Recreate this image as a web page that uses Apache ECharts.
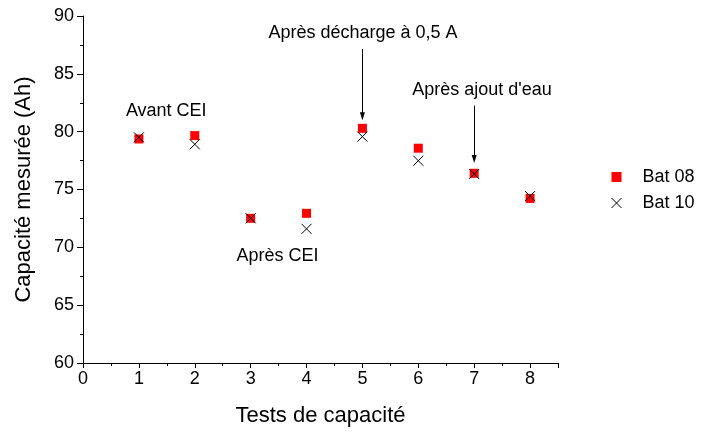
<!DOCTYPE html>
<html>
<head>
<meta charset="utf-8">
<script src="https://cdn.jsdelivr.net/npm/echarts@6/dist/echarts.min.js"></script>
<style>
  html, body { margin: 0; padding: 0; background: #fff; }
  #chart { width: 701px; height: 432px; }
</style>
</head>
<body>
<div id="chart"></div>
<script>
// Capacity test numbers (x) and measured capacities in Ah
const tests = [1, 2, 3, 4, 5, 6, 7, 8];
const bat08 = [79.37, 79.66, 72.51, 72.94, 80.29, 78.57, 76.40, 74.23];
const bat10 = [79.51, 78.91, 72.51, 71.60, 79.57, 77.49, 76.34, 74.43];

// Annotation texts with their anchor positions (test, Ah)
const noteTexts = ['Avant CEI', 'Après CEI', 'Après décharge à 0,5 A', "Après ajout d'eau"];
const noteX = [1.49, 3.48, 5.01, 7.14];
const noteY = [81.82, 69.29, 88.52, 83.62];

// Arrows: x position, start and end (Ah)
const arrowX = [5, 7];
const arrowFrom = [87.15, 82.25];
const arrowTo = [81.34, 77.63];

const FONT = 'Liberation Sans, Arial, sans-serif';
const crossPath = 'path://M0,0L10,10M10,0L0,10';

const chart = echarts.init(document.getElementById('chart'), null, { renderer: 'canvas' });

chart.setOption({
  animation: false,
  backgroundColor: '#ffffff',
  textStyle: { fontFamily: FONT, color: '#000' },
  grid: { left: 83, right: 143, top: 16, bottom: 65, containLabel: false },
  legend: {
    orient: 'vertical',
    left: 606,
    top: 163,
    itemWidth: 10,
    itemHeight: 10,
    itemGap: 8,
    selectedMode: false,
    textStyle: { fontFamily: FONT, fontSize: 18, color: '#000', padding: [0, 0, 0, 16] },
    data: [
      { name: 'Bat 08', icon: 'rect', itemStyle: { color: '#ff0000', opacity: 1 } },
      { name: 'Bat 10', icon: crossPath, itemStyle: { color: 'rgba(0,0,0,0)', borderColor: '#000', borderWidth: 1, opacity: 1 } }
    ]
  },
  xAxis: {
    type: 'value',
    min: 0,
    max: 8.5,
    interval: 1,
    name: 'Tests de capacité',
    nameLocation: 'middle',
    nameGap: 42,
    nameTextStyle: { fontFamily: FONT, fontSize: 22, color: '#000' },
    axisLine: { onZero: false, lineStyle: { color: '#000', width: 1 } },
    axisTick: { inside: false, length: 5, lineStyle: { color: '#000' } },
    minorTick: { show: true, splitNumber: 2, length: 3, lineStyle: { color: '#000' } },
    axisLabel: {
      fontFamily: FONT, fontSize: 18, color: '#000', margin: 7,
      formatter: v => (v > 8 ? '' : String(v))
    },
    splitLine: { show: false }
  },
  yAxis: {
    type: 'value',
    min: 60,
    max: 90,
    interval: 5,
    name: 'Capacité mesurée (Ah)',
    nameLocation: 'middle',
    nameGap: 48,
    nameTextStyle: { fontFamily: FONT, fontSize: 22, color: '#000' },
    axisLine: { show: true, onZero: false, lineStyle: { color: '#000', width: 1 } },
    axisTick: { show: true, inside: false, length: 6, lineStyle: { color: '#000' } },
    minorTick: { show: true, splitNumber: 2, length: 3, lineStyle: { color: '#000' } },
    axisLabel: { fontFamily: FONT, fontSize: 18, color: '#000', margin: 9 },
    splitLine: { show: false }
  },
  series: [
    {
      name: 'Bat 08',
      type: 'scatter',
      symbol: 'rect',
      symbolSize: 9,
      itemStyle: { color: '#ff0000', opacity: 1 },
      data: tests.map((t, i) => [t, bat08[i]]),
      z: 2
    },
    {
      name: 'Bat 10',
      type: 'scatter',
      symbol: crossPath,
      symbolSize: 10,
      itemStyle: { color: 'rgba(0,0,0,0)', borderColor: '#000', borderWidth: 1, opacity: 1 },
      data: tests.map((t, i) => [t, bat10[i]]),
      z: 3
    },
    {
      name: 'notes',
      type: 'scatter',
      symbolSize: 0,
      silent: true,
      z: 4,
      itemStyle: { opacity: 1 },
      label: {
        show: true,
        position: 'inside',
        fontFamily: FONT,
        fontSize: 18,
        color: '#000',
        opacity: 1,
        formatter: p => p.name
      },
      data: noteTexts.map((n, i) => ({ name: n, value: [noteX[i], noteY[i]] })),
      markLine: {
        silent: true,
        symbol: ['none', 'triangle'],
        symbolSize: [5, 8],
        symbolRotate: 180,
        label: { show: false },
        lineStyle: { color: '#000', width: 1, type: 'solid', opacity: 1 },
        data: arrowX.map((x, i) => [
          { coord: [x, arrowFrom[i]] },
          { coord: [x, arrowTo[i]] }
        ])
      }
    }
  ]
});
</script>
</body>
</html>
